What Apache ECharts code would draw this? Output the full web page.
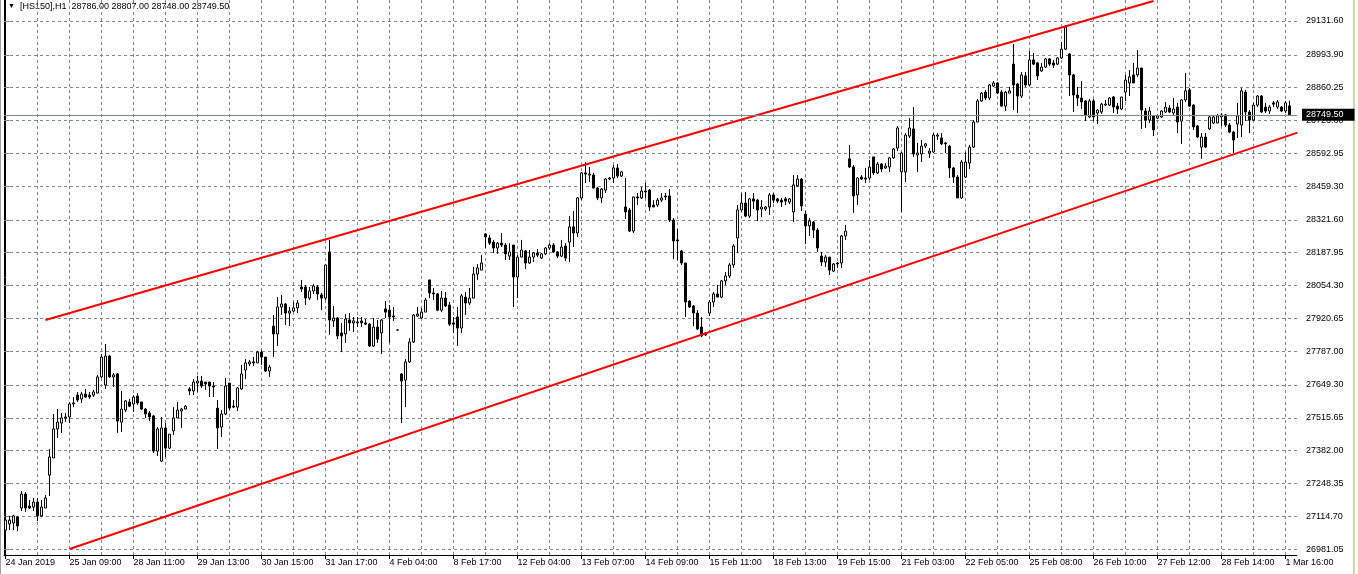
<!DOCTYPE html>
<html>
<head>
<meta charset="utf-8">
<title>HS150 H1</title>
<script src="https://cdn.jsdelivr.net/npm/echarts@6/dist/echarts.min.js"></script>
<style>
  html, body { margin: 0; padding: 0; background: #fff; }
  #chart { width: 1358px; height: 574px; }
</style>
</head>
<body>
<div id="chart"></div>
<script>
  // hourly bars, one row per bar: [open, close, low, high]
  var candles = [
    [27058,27099,27018,27116],[27083,27099,27058,27116],[27087,27116,27058,27120],[27111,27075,27054,27116],[27148,27205,27136,27217],
    [27205,27148,27132,27213],[27156,27148,27144,27181],[27152,27172,27136,27189],[27172,27116,27095,27189],[27116,27152,27111,27181],
    [27148,27189,27148,27201],[27282,27356,27197,27388],[27352,27470,27352,27531],[27470,27498,27433,27551],[27494,27515,27454,27535],
    [27515,27519,27498,27535],[27519,27572,27494,27580],[27572,27576,27559,27600],[27608,27588,27580,27621],[27592,27612,27576,27621],
    [27612,27600,27596,27633],[27608,27600,27592,27621],[27608,27621,27600,27629],[27616,27682,27616,27690],[27682,27763,27678,27775],
    [27649,27767,27633,27816],[27767,27682,27678,27771],[27682,27690,27641,27698],[27694,27502,27454,27698],[27498,27551,27458,27625],
    [27547,27584,27539,27588],[27580,27563,27559,27592],[27572,27600,27539,27608],[27604,27576,27568,27616],[27580,27551,27547,27580],
    [27551,27531,27515,27555],[27535,27519,27502,27543],[27523,27380,27372,27527],[27380,27470,27360,27478],[27339,27474,27335,27519],
    [27474,27392,27356,27494],[27392,27449,27388,27449],[27462,27515,27445,27559],[27515,27547,27515,27580],[27543,27551,27474,27555],
    [27551,27563,27551,27568],[27633,27625,27608,27641],[27625,27661,27608,27673],[27657,27665,27621,27686],[27665,27645,27637,27686],
    [27661,27653,27629,27661],[27661,27645,27600,27661],[27645,27641,27600,27661],[27555,27474,27388,27588],[27478,27531,27437,27547],
    [27531,27645,27527,27678],[27657,27555,27547,27657],[27563,27559,27555,27588],[27559,27637,27543,27641],[27633,27694,27629,27731],
    [27710,27739,27673,27755],[27735,27743,27726,27751],[27743,27739,27726,27763],[27739,27783,27739,27788],[27783,27763,27731,27792],
    [27763,27706,27702,27763],[27706,27722,27682,27731],[27889,27857,27763,27934],[27857,27967,27808,28007],[27967,27979,27934,28016],
    [27979,27942,27893,27983],[27942,27950,27889,27967],[27950,27963,27946,27987],[27963,27983,27942,27995],[28048,28040,28028,28077],
    [28048,28003,27975,28056],[28003,28032,27995,28048],[28032,28052,28020,28060],[28048,28020,27995,28056],[28016,28003,27954,28024],
    [28003,28138,27995,28138],[28191,27914,27853,28240],[27910,27922,27885,27971],[27922,27849,27836,27926],[27861,27849,27783,27902],
    [27857,27918,27820,27938],[27914,27902,27869,27942],[27902,27910,27865,27926],[27902,27906,27885,27926],[27910,27902,27885,27926],
    [27902,27897,27893,27918],[27897,27808,27804,27902],[27808,27885,27804,27922],[27885,27836,27820,27914],[27861,27914,27775,27918],
    [27959,27946,27922,27991],[27954,27926,27820,27975],[27930,27926,27910,27967],[27873,27873,27871,27875],[27694,27665,27494,27698],
    [27669,27743,27559,27755],[27743,27824,27739,27840],[27824,27934,27820,27938],[27930,27938,27926,27967],[27922,27946,27918,27963],
    [27946,27995,27946,28003],[28077,28024,28003,28077],[28024,28020,27995,28044],[28020,27954,27950,28024],[27954,28003,27946,28032],
    [28003,27971,27967,28028],[27975,27897,27889,27987],[27902,27897,27861,27926],[27926,27881,27808,27967],[27881,28012,27861,28020],
    [28007,27983,27934,28028],[27983,28003,27975,28044],[28003,28101,28003,28130],[28101,28126,28077,28142],[28117,28146,28117,28178],
    [28264,28252,28207,28268],[28248,28227,28219,28260],[28231,28207,28187,28240],[28207,28227,28183,28231],[28227,28219,28211,28268],
    [28219,28183,28158,28227],[28174,28191,28158,28227],[28219,28089,27967,28219],[28089,28170,28003,28178],[28170,28199,28170,28240],
    [28195,28146,28121,28199],[28146,28170,28142,28199],[28170,28187,28150,28191],[28187,28178,28170,28203],[28166,28183,28162,28187],
    [28183,28207,28178,28211],[28207,28219,28199,28227],[28219,28191,28187,28227],[28191,28174,28166,28195],[28174,28211,28170,28240],
    [28215,28166,28154,28227],[28231,28293,28150,28337],[28293,28268,28211,28358],[28268,28411,28252,28415],[28411,28513,28402,28517],
    [28513,28508,28472,28557],[28504,28508,28476,28537],[28504,28451,28451,28513],[28451,28411,28402,28456],[28411,28447,28390,28451],
    [28443,28488,28431,28492],[28488,28492,28484,28496],[28492,28533,28472,28545],[28533,28500,28492,28549],[28500,28517,28496,28521],
    [28374,28354,28325,28492],[28362,28276,28272,28370],[28276,28415,28268,28415],[28415,28411,28382,28431],[28411,28439,28407,28456],
    [28439,28435,28411,28472],[28443,28374,28358,28447],[28382,28374,28374,28402],[28382,28402,28374,28411],[28402,28411,28394,28431],
    [28419,28415,28402,28431],[28419,28321,28313,28447],[28321,28236,28162,28329],[28240,28236,28158,28284],[28195,28146,28138,28199],
    [28146,27987,27926,28146],[27991,27967,27963,27995],[27971,27942,27889,27975],[27942,27877,27873,27954],[27885,27849,27845,27926],
    [27853,27861,27849,27865],[27942,27987,27930,27995],[27987,28020,27967,28028],[28020,28007,28007,28056],[28007,28073,28003,28077],
    [28073,28093,28056,28109],[28093,28138,28085,28146],[28138,28215,28126,28223],[28248,28362,28187,28382],[28362,28390,28354,28431],
    [28390,28337,28333,28435],[28337,28407,28329,28411],[28407,28398,28366,28431],[28402,28362,28317,28407],[28366,28374,28333,28402],
    [28366,28374,28358,28378],[28374,28423,28341,28431],[28423,28402,28390,28431],[28407,28398,28390,28411],[28402,28394,28374,28411],
    [28407,28398,28382,28415],[28394,28407,28386,28411],[28354,28464,28313,28504],[28460,28488,28456,28504],[28488,28378,28358,28492],
    [28345,28297,28223,28358],[28297,28317,28256,28329],[28313,28280,28248,28317],[28280,28207,28191,28288],[28174,28150,28134,28191],
    [28150,28170,28130,28178],[28170,28117,28097,28170],[28113,28142,28109,28146],[28146,28142,28126,28150],[28146,28256,28126,28260],
    [28256,28276,28240,28301],[28570,28537,28533,28627],[28537,28419,28350,28545],[28423,28492,28382,28496],[28496,28488,28484,28504],
    [28492,28488,28472,28533],[28492,28537,28484,28565],[28578,28513,28504,28578],[28513,28549,28508,28557],[28549,28529,28517,28553],
    [28533,28541,28529,28553],[28537,28574,28517,28578],[28574,28610,28570,28614],[28614,28696,28602,28704],[28517,28594,28354,28598],
    [28517,28667,28476,28675],[28663,28696,28655,28736],[28692,28590,28578,28781],[28586,28594,28517,28635],[28590,28622,28557,28647],
    [28622,28631,28614,28635],[28594,28602,28574,28614],[28598,28667,28594,28675],[28663,28667,28647,28675],[28655,28631,28627,28675],
    [28635,28631,28594,28639],[28622,28533,28492,28627],[28533,28496,28472,28537],[28496,28411,28411,28504],[28411,28557,28407,28565],
    [28496,28557,28492,28598],[28553,28618,28529,28627],[28618,28720,28614,28728],[28720,28806,28720,28814],[28806,28838,28802,28842],
    [28842,28818,28810,28851],[28818,28871,28810,28875],[28867,28879,28863,28887],[28879,28838,28834,28883],[28842,28785,28781,28851],
    [28785,28842,28765,28847],[28838,28847,28838,28863],[28956,28871,28769,29038],[28875,28826,28757,28879],[28826,28912,28818,28924],
    [28908,28871,28863,28924],[28871,28973,28867,29009],[28973,28956,28952,29001],[28961,28908,28891,28965],[28928,28944,28924,28961],
    [28944,28977,28940,28981],[28977,28956,28948,28981],[28961,28952,28940,28973],[28956,28981,28952,28985],[28981,29017,28977,29046],
    [29017,29107,29013,29115],[28997,28912,28826,29001],[28912,28830,28761,28916],[28830,28818,28785,28863],[28818,28802,28773,28887],
    [28806,28749,28724,28810],[28741,28806,28736,28814],[28806,28741,28724,28814],[28757,28769,28712,28773],[28761,28793,28753,28798],
    [28789,28793,28785,28810],[28789,28818,28785,28822],[28822,28781,28757,28826],[28785,28773,28753,28798],[28773,28822,28769,28822],
    [28842,28891,28806,28912],[28879,28904,28826,28932],[28912,28879,28879,28961],[28912,28940,28904,29013],[28940,28769,28692,28940],
    [28765,28728,28696,28777],[28728,28765,28716,28781],[28745,28688,28663,28749],[28736,28745,28732,28749],[28741,28765,28736,28769],
    [28761,28781,28757,28802],[28777,28761,28757,28789],[28757,28773,28749,28818],[28781,28720,28675,28798],[28724,28810,28631,28814],
    [28810,28847,28802,28920],[28851,28785,28781,28859],[28789,28700,28688,28793],[28704,28659,28655,28708],[28618,28659,28570,28675],
    [28659,28618,28614,28675],[28692,28741,28688,28749],[28716,28741,28712,28749],[28716,28745,28716,28753],[28741,28749,28704,28757],
    [28749,28708,28700,28753],[28708,28679,28675,28716],[28679,28647,28594,28684],[28712,28745,28655,28798],[28708,28847,28659,28859],
    [28842,28761,28724,28851],[28761,28728,28675,28769],[28728,28789,28724,28798],[28789,28826,28781,28830],[28826,28761,28757,28830],
    [28781,28765,28757,28798],[28765,28781,28753,28789],[28798,28793,28781,28806],[28781,28802,28773,28810],[28781,28765,28761,28785],
    [28765,28798,28757,28806],[28786,28749.5,28748,28807]
  ];

  // time axis: one label every 16 bars
  var labelStep = 16;
  var timeLabels = ['24 Jan 2019', '25 Jan 09:00', '28 Jan 11:00', '29 Jan 13:00', '30 Jan 15:00', '31 Jan 17:00',
    '4 Feb 04:00', '8 Feb 17:00', '12 Feb 04:00', '13 Feb 07:00', '14 Feb 09:00', '15 Feb 11:00', '18 Feb 13:00',
    '19 Feb 15:00', '21 Feb 03:00', '22 Feb 05:00', '25 Feb 08:00', '26 Feb 10:00', '27 Feb 12:00', '28 Feb 14:00',
    '1 Mar 16:00'];

  // price scale ticks
  var priceTicks = [26981.05, 27114.70, 27248.35, 27382.00, 27515.65, 27649.30, 27787.00, 27920.65, 28054.30,
    28187.95, 28321.60, 28459.30, 28592.95, 28726.60, 28860.25, 28993.90, 29131.60];

  // channel trend lines, [bar, price]
  var upperChannel = [[10, 27914], [287, 29213]];
  var lowerChannel = [[16, 26981], [323, 28677]];

  var symbolName = '[HS150],H1';
  var last = candles[candles.length - 1];
  var lastPrice = last[1];

  var chart = echarts.init(document.getElementById('chart'));

  var xMin = -0.375, xMax = candles.length + 0.875;
  var yMin = 26956.7, yMax = 29217.1;
  var gridColor = '#778899';

  var labelBars = timeLabels.map(function (t, k) { return k * labelStep; });

  // dashed chart grid: every 8 bars and at every price tick
  var gridLines = [];
  for (var k = 8; k < xMax; k += 8) gridLines.push({ xAxis: k });
  priceTicks.forEach(function (p) { gridLines.push({ yAxis: p }); });

  var header = symbolName + '  ' + [last[0], last[3], last[2], last[1]].map(function (v) {
    return v.toFixed(2);
  }).join(' ');

  var font = 'Liberation Sans';

  chart.setOption({
    animation: false,
    backgroundColor: '#ffffff',
    textStyle: { fontFamily: font },
    grid: { left: 4, right: 61, top: 0, bottom: 19, containLabel: false, outerBoundsMode: 'none' },
    xAxis: {
      type: 'value',
      min: xMin,
      max: xMax,
      axisLine: { show: true, onZero: false, lineStyle: { color: '#000', width: 1 } },
      axisTick: { show: true, customValues: labelBars, length: 4, lineStyle: { color: '#000' } },
      axisLabel: {
        customValues: labelBars,
        formatter: function (v) { return timeLabels[Math.round(v / labelStep)]; },
        align: 'left',
        margin: 3,
        fontSize: 9,
        fontFamily: font,
        color: '#000'
      },
      splitLine: { show: false }
    },
    yAxis: [{
      type: 'value',
      position: 'right',
      min: yMin,
      max: yMax,
      axisLine: { show: true, lineStyle: { color: '#000' } },
      axisTick: { show: true, customValues: priceTicks, length: 4, lineStyle: { color: gridColor } },
      axisLabel: {
        customValues: priceTicks,
        formatter: function (v) { return v.toFixed(2); },
        margin: 9,
        fontSize: 9,
        fontFamily: font,
        color: '#000'
      },
      splitLine: { show: false }
    }, {
      type: 'value',
      position: 'left',
      min: yMin,
      max: yMax,
      axisLine: { show: true, lineStyle: { color: '#000' } },
      axisTick: { show: false },
      axisLabel: { show: false },
      splitLine: { show: false }
    }],
    graphic: [
      { type: 'rect', left: 0, top: 0, shape: { width: 1, height: 574 }, style: { fill: '#a0a0a0' }, silent: true },
      { type: 'rect', right: 3, top: 0, shape: { width: 2, height: 574 }, style: { fill: '#c6dca8' }, silent: true },
      { type: 'text', left: 8, top: 3, style: { text: '▼', fontSize: 7, fill: '#000' }, silent: true },
      { type: 'text', left: 20, top: 2, style: { text: header, fontSize: 9, fontFamily: font, fill: '#000' }, silent: true }
    ],
    series: [{
      // grid holder
      type: 'line',
      data: [],
      silent: true,
      markLine: {
        silent: true,
        symbol: 'none',
        z: 1,
        animation: false,
        label: { show: false },
        lineStyle: { color: gridColor, type: [3, 3], width: 1 },
        emphasis: { disabled: true },
        data: gridLines
      }
    }, {
      type: 'candlestick',
      z: 3,
      barWidth: 2,
      silent: true,
      data: candles.map(function (c, i) { return [i, c[0], c[1], c[2], c[3]]; }),
      itemStyle: {
        color: '#ffffff',
        color0: '#000000',
        borderColor: '#000000',
        borderColor0: '#000000',
        borderColorDoji: '#000000',
        borderWidth: 1
      },
      markLine: {
        silent: true,
        symbol: 'none',
        z: 5,
        animation: false,
        lineStyle: { color: gridColor, type: 'solid', width: 1 },
        label: {
          show: true,
          position: 'end',
          distance: 5,
          formatter: lastPrice.toFixed(2),
          color: '#fff',
          backgroundColor: '#000',
          fontSize: 9,
          fontFamily: font,
          padding: [2, 11, 1, 4]
        },
        emphasis: { disabled: true },
        data: [{ yAxis: lastPrice }]
      }
    }, {
      type: 'line',
      z: 4,
      silent: true,
      showSymbol: false,
      symbol: 'none',
      data: upperChannel,
      lineStyle: { color: '#ff0000', width: 2 }
    }, {
      type: 'line',
      z: 4,
      silent: true,
      showSymbol: false,
      symbol: 'none',
      data: lowerChannel,
      lineStyle: { color: '#ff0000', width: 2 }
    }]
  });
</script>
</body>
</html>
